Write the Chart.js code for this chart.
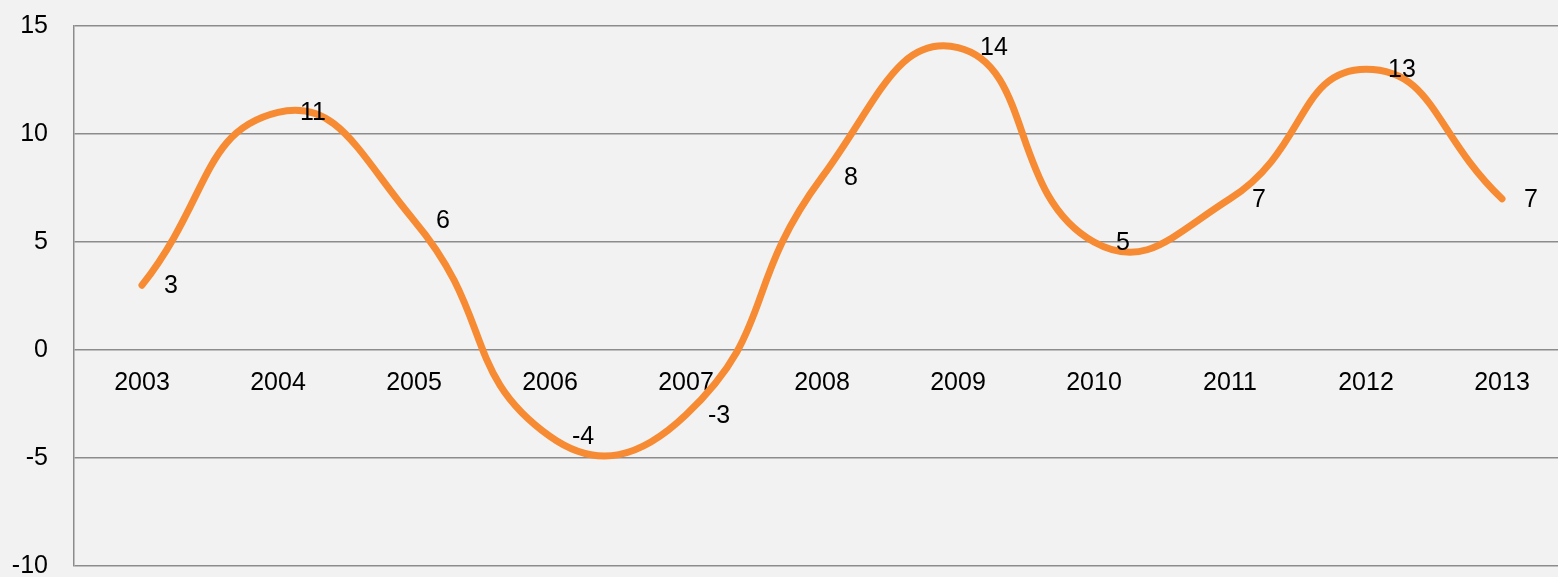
<!DOCTYPE html>
<html>
<head>
<meta charset="utf-8">
<script src="https://cdn.jsdelivr.net/npm/chart.js@4.4.1/dist/chart.umd.min.js"></script>
<style>
  html, body { margin: 0; padding: 0; background: #f2f2f2; overflow: hidden; }
  #wrap { width: 1558px; height: 577px; overflow: hidden; }
  #box { width: 1570px; height: 622px; margin-top: -15px; }
</style>
</head>
<body>
<div id="wrap"><div id="box"><canvas id="lineChart"></canvas></div></div>
<script>
const years = ['2003', '2004', '2005', '2006', '2007', '2008', '2009', '2010', '2011', '2012', '2013'];
const values = [3, 11, 6, -4, -3, 8, 14, 5, 7, 13, 7];
const yTicks = [-10, -5, 0, 5, 10, 15];

const FONT = '"Liberation Sans", Arial, sans-serif';

// draws the value next to each point, like excel's "right" label position
const pointLabels = {
    id: 'pointLabels',
    afterDatasetsDraw(chart) {
        const ctx = chart.ctx;
        const meta = chart.getDatasetMeta(0);
        ctx.save();
        ctx.font = '25px ' + FONT;
        ctx.fillStyle = '#000';
        ctx.textAlign = 'left';
        ctx.textBaseline = 'middle';
        meta.data.forEach((pt, i) => {
            ctx.fillText(String(values[i]), pt.x + 22, pt.y + 1);
        });
        ctx.restore();
    }
};

new Chart(document.getElementById('lineChart'), {
    type: 'line',
    data: {
        labels: years,
        datasets: [{
            data: values,
            borderColor: '#f68b33',
            borderWidth: 7,
            borderCapStyle: 'round',
            borderJoinStyle: 'round',
            pointRadius: 0,
            tension: 0.5,
            fill: false
        }]
    },
    options: {
        responsive: true,
        maintainAspectRatio: false,
        animation: false,
        layout: { padding: { top: 10, right: 0, bottom: 0, left: 0 } },
        plugins: { legend: { display: false }, tooltip: { enabled: false } },
        scales: {
            x: {
                position: { y: 0 },
                offset: true,
                grid: { display: false, drawTicks: false },
                border: { display: false },
                ticks: { color: '#000', font: { size: 25, family: FONT }, padding: 18, maxRotation: 0 }
            },
            y: {
                min: -10,
                max: 15,
                afterBuildTicks: axis => { axis.ticks = yTicks.map(v => ({ value: v })); },
                afterFit: axis => { axis.width = 74; },
                grid: { color: '#8c8c8c', lineWidth: 1.5, drawTicks: false },
                border: { display: true, color: '#8c8c8c', width: 1.5 },
                ticks: { color: '#000', font: { size: 25, family: FONT }, padding: 26 }
            }
        }
    },
    plugins: [pointLabels]
});
</script>
</body>
</html>
